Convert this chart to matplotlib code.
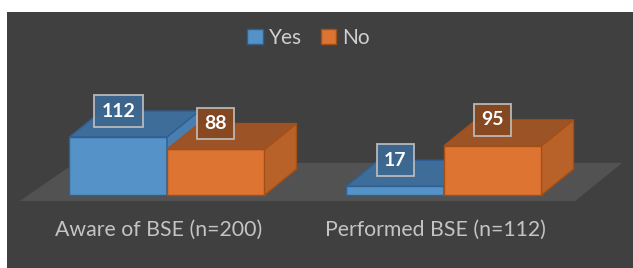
import numpy as np
import matplotlib
matplotlib.use("Agg")
import matplotlib.pyplot as plt
from matplotlib.patches import Polygon, Patch

plt.rcParams['font.family'] = ['Lato', 'DejaVu Sans']

categories = ["Aware of BSE (n=200)", "Performed BSE (n=112)"]
series = ["Yes", "No"]
yes_vals = [112, 17]
no_vals = [88, 95]

# colours: front, top, side, edge, label box
blue = ["#5592c8", "#3f6d99", "#4a7db0", "#2f6094", "#3d6890"]
orange = ["#dd7432", "#9c5427", "#b8622a", "#a44f15", "#874820"]

bg = "#404040"
floor_col = "#525252"

w = 0.352          # bar width (category units)
ddx = 0.1155       # depth offset in x
ddy = 50.0         # depth offset in value units

fig = plt.figure(figsize=(6.33, 2.68), dpi=100)
fig.patch.set_facecolor("white")
ax = fig.add_axes([7/633, 0, 626/633, 256/268])
ax.set_facecolor(bg)
ax.set_xlim(-0.5776, 1.6823)
ax.set_ylim(-140.9, 353.3)
ax.axis("off")
ax.add_patch(plt.Rectangle((0, 0), 1, 1, transform=ax.transAxes,
                           facecolor=bg, edgecolor="none", zorder=0))

x = np.arange(len(categories))

# floor
f0, f1 = -0.23, 1.24
kl = 0.135
xl, xr = x[0] - 0.5, x[-1] + 0.5
floor = Polygon([(xl + f0*kl, f0*ddy), (xr + f0*ddx, f0*ddy),
                 (xr + f1*ddx, f1*ddy), (xl + f1*kl, f1*ddy)],
                closed=True, facecolor=floor_col, edgecolor="none", zorder=1)
ax.add_patch(floor)


def draw_bar(x0, v, cols, z):
    x1 = x0 + w
    ax.bar(x0, v, w, align="edge", color=cols[0], edgecolor=cols[3],
           linewidth=1, zorder=z)
    top = Polygon([(x0, v), (x1, v), (x1 + ddx, v + ddy), (x0 + ddx, v + ddy)],
                  closed=True, facecolor=cols[1], edgecolor=cols[3],
                  linewidth=1, zorder=z)
    side = Polygon([(x1, 0), (x1, v), (x1 + ddx, v + ddy), (x1 + ddx, ddy)],
                   closed=True, facecolor=cols[2], edgecolor=cols[3],
                   linewidth=1, zorder=z)
    ax.add_patch(side)
    ax.add_patch(top)
    ax.text(x0 + w/2, v + ddy, str(v), ha="center", va="center",
            color="white", fontsize=14, fontweight="bold", zorder=20,
            bbox=dict(boxstyle="square,pad=0.38", facecolor=cols[4],
                      edgecolor="#bdbdbd", linewidth=1.3, alpha=0.95))


for i in range(len(categories)):
    draw_bar(x[i] - w, yes_vals[i], blue, 5 + i*4)
    draw_bar(x[i], no_vals[i], orange, 6 + i*4)
    ax.text(x[i] - 0.03, -68, categories[i], ha="center", va="center",
            color="#c4c4c4", fontsize=15.3)

handles = [Patch(facecolor=blue[0], edgecolor=blue[3], label=series[0]),
           Patch(facecolor=orange[0], edgecolor=orange[3], label=series[1])]
fig.legend(handles=handles, loc="center", bbox_to_anchor=(308.5/633, 1 - 38/268),
           ncol=2, frameon=False, fontsize=15, labelcolor="#cfcfcf",
           handlelength=0.75, handleheight=0.75, handletextpad=0.3,
           columnspacing=0.9)

fig.savefig("out.png", dpi=100, facecolor=fig.get_facecolor())
